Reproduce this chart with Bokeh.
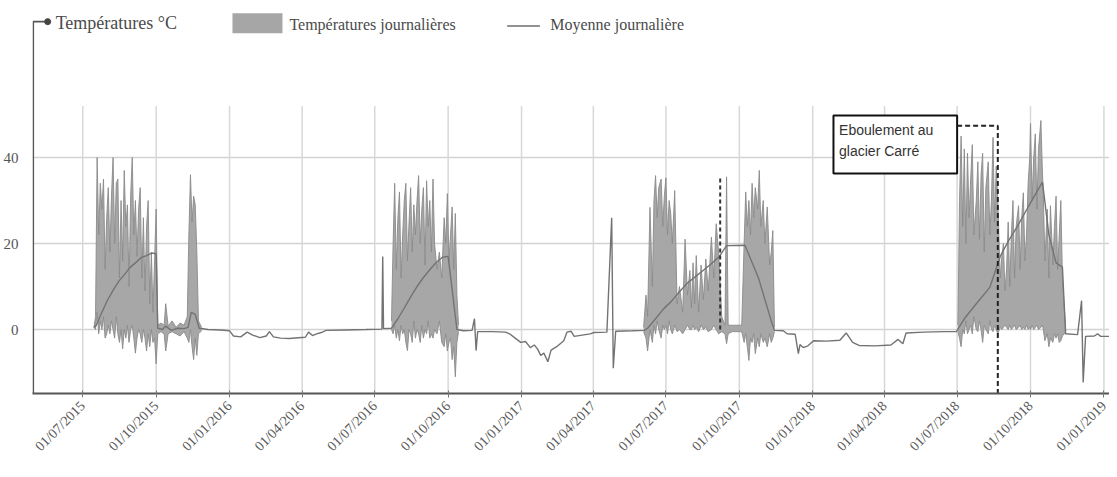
import math
import pandas as pd
from bokeh.plotting import figure
from bokeh.models import ColumnDataSource, Range1d, FixedTicker, DatetimeTickFormatter
from bokeh.core.properties import value
from bokeh.embed import file_html
from bokeh.resources import INLINE

# ---------------- DATA ----------------
x_tick_dates = ["2015-07-01", "2015-10-01", "2016-01-01", "2016-04-01", "2016-07-01",
                "2016-10-01", "2017-01-01", "2017-04-01", "2017-07-01", "2017-10-01",
                "2018-01-01", "2018-04-01", "2018-07-01", "2018-10-01", "2019-01-01"]
y_ticks = [0, 20, 40]

# Daily min / max band, season 2015
dates_2015 = ["2015-07-15", "2015-07-17", "2015-07-19", "2015-07-21", "2015-07-23", "2015-07-25", "2015-07-27", "2015-07-29", "2015-07-31",
              "2015-08-02", "2015-08-04", "2015-08-06", "2015-08-08", "2015-08-10", "2015-08-12", "2015-08-14", "2015-08-16", "2015-08-18",
              "2015-08-20", "2015-08-22", "2015-08-24", "2015-08-26", "2015-08-28", "2015-08-30",
              "2015-09-01", "2015-09-03", "2015-09-05", "2015-09-07", "2015-09-09", "2015-09-11", "2015-09-13", "2015-09-15", "2015-09-17",
              "2015-09-19", "2015-09-21", "2015-09-23", "2015-09-25", "2015-09-27", "2015-09-29", "2015-10-01",
              "2015-10-03", "2015-10-07", "2015-10-11", "2015-10-13", "2015-10-16", "2015-10-21", "2015-10-26", "2015-10-31", "2015-11-05", "2015-11-09",
              "2015-11-11", "2015-11-13", "2015-11-15", "2015-11-17", "2015-11-19", "2015-11-21", "2015-11-23", "2015-11-27"]
tmax_2015 = [0.5, 3, 40, 22, 34, 28, 35, 14, 26,
             33, 18, 31, 40, 20, 34, 35, 12, 30, 16, 37, 24, 29, 10, 31,
             40, 22, 30, 17, 28, 33, 12, 26, 9, 24, 30, 6, 18, 4, 16, 28,
             1, 1.5, 1, 6, 0.8, 2, 0.5, 1.5, 1, 3,
             22, 36, 25, 31, 29, 18, 2, 0.5]
tmin_2015 = [0.5, 0, 4, -1, 2, 0, 3, -2, -1,
             1, -1, 2, 0, -2, 3, -1, -3, 0, -4.5, 0, -2, 1, -3, 0,
             1, -2, -5.5, -2, 0, -1, -3, 0, -2, -5, -1, -4, 0, -3, -2, -8,
             -1, -0.5, -1, -5, -1, -0.5, -1, -1.5, -0.5, -2,
             -3, 0, -4, -7, -2, -6, -1, -0.3]

# season 2016
dates_2016 = ["2016-07-22", "2016-07-24", "2016-07-26", "2016-07-28", "2016-07-30",
              "2016-08-01", "2016-08-03", "2016-08-05", "2016-08-07", "2016-08-09", "2016-08-11", "2016-08-13", "2016-08-15",
              "2016-08-17", "2016-08-19", "2016-08-21", "2016-08-23", "2016-08-25", "2016-08-27", "2016-08-29", "2016-08-31",
              "2016-09-02", "2016-09-04", "2016-09-06", "2016-09-08", "2016-09-10", "2016-09-12", "2016-09-14",
              "2016-09-17", "2016-09-20", "2016-09-23", "2016-09-26", "2016-09-28", "2016-09-30",
              "2016-10-02", "2016-10-04", "2016-10-06", "2016-10-08", "2016-10-10", "2016-10-12", "2016-10-14"]
tmax_2016 = [2, 20, 34, 14, 26,
             32, 12, 22, 30, 34, 16, 25, 33, 18, 29, 22, 30, 35.8, 20, 28, 33,
             15, 34.6, 24, 30, 18, 35, 20,
             14, 18, 12, 26, 20, 31.6,
             16, 22, 28.5, 14, 27, 8, 1]
tmin_2016 = [0, -1, 1, -2, 0,
             -2.6, 1, -1, 0, -3, -4.9, 0, -1, -3, 2, -2, 0, -1, -3, 1, -2,
             0, -1, 2, -2, -1, -2, 0,
             -1, 2, -3, -4, -1, -5,
             -3, -2, -7, -4, -11, -3, -0.5]

# season 2017
dates_2017 = ["2017-06-03", "2017-06-06", "2017-06-08", "2017-06-11", "2017-06-14", "2017-06-16", "2017-06-18", "2017-06-20",
              "2017-06-22", "2017-06-25", "2017-06-27", "2017-06-29",
              "2017-07-01", "2017-07-03", "2017-07-05", "2017-07-07", "2017-07-09", "2017-07-12", "2017-07-15", "2017-07-18",
              "2017-07-22", "2017-07-25", "2017-07-28", "2017-07-31",
              "2017-08-02", "2017-08-04", "2017-08-06", "2017-08-08", "2017-08-11", "2017-08-14", "2017-08-17", "2017-08-20",
              "2017-08-23", "2017-08-27", "2017-08-30",
              "2017-09-02", "2017-09-05", "2017-09-09", "2017-09-13", "2017-09-15", "2017-09-17", "2017-09-22", "2017-09-28",
              "2017-10-04", "2017-10-07", "2017-10-09", "2017-10-11", "2017-10-13", "2017-10-15", "2017-10-17", "2017-10-19",
              "2017-10-21", "2017-10-24", "2017-10-26", "2017-10-28", "2017-10-31",
              "2017-11-02", "2017-11-05", "2017-11-08", "2017-11-10", "2017-11-12", "2017-11-14"]
tmax_2017 = [0.5, 8, 3, 28.4, 10, 30, 35.8, 26, 33, 35, 24, 31,
             35.3, 22, 30, 27, 20, 32.3, 6, 10, 4, 21, 8, 13.7,
             5, 15.5, 6, 17.2, 4, 15, 7, 16.4, 9, 21.5, 12,
             24.6, 18, 3, 1, 35.5, 1, 1, 1,
             1, 20, 32, 24, 30, 22, 34, 26, 33, 28, 37, 24, 30,
             20, 28.5, 15, 18, 23, 0.5]
tmin_2017 = [-0.5, -2, -5, 0, -3, 1, -1, 2, 0, -2, 1, 0,
             1, -1, 2, 0, -1, 1, -0.5, 0, -1, 0, 1, 0,
             0, 1, 0, 0.5, -0.5, 1, 0, 0.5, -0.5, 0, 1,
             0, -1, -0.5, -1, -3.3, -1, -0.5, -0.5,
             -0.5, -3, -1, -4, -7.2, -2, -3, -1, -5.6, -2, -4, -1, -3,
             -2, -4, -1, -3, -2, -0.5]

# season 2018
dates_2018 = ["2018-07-02", "2018-07-04", "2018-07-06", "2018-07-08", "2018-07-10", "2018-07-12", "2018-07-14", "2018-07-16",
              "2018-07-18", "2018-07-20", "2018-07-22", "2018-07-25", "2018-07-27", "2018-07-29", "2018-07-31",
              "2018-08-02", "2018-08-04", "2018-08-06", "2018-08-09", "2018-08-11", "2018-08-13", "2018-08-15", "2018-08-17",
              "2018-08-19", "2018-08-21", "2018-08-24", "2018-08-26", "2018-08-28", "2018-08-30",
              "2018-09-01", "2018-09-03", "2018-09-05", "2018-09-07", "2018-09-09", "2018-09-11", "2018-09-13", "2018-09-16",
              "2018-09-18", "2018-09-20", "2018-09-22", "2018-09-24", "2018-09-26", "2018-09-28", "2018-09-30",
              "2018-10-01", "2018-10-03", "2018-10-05", "2018-10-07", "2018-10-09", "2018-10-11", "2018-10-14", "2018-10-16",
              "2018-10-17", "2018-10-19", "2018-10-22", "2018-10-24", "2018-10-26", "2018-10-29", "2018-10-31",
              "2018-11-02", "2018-11-04", "2018-11-06", "2018-11-08", "2018-11-10", "2018-11-12", "2018-11-14"]
tmax_2018 = [1, 30, 45, 24, 42, 20, 41, 26, 35, 43, 22, 30, 39, 21, 36,
             41, 18, 33, 39, 22, 30, 44.7, 25, 38, 30, 12, 17, 20, 9,
             14, 25, 10, 22, 30, 12, 24, 28.8, 14, 26, 31.8, 16, 22, 34, 40,
             47.9, 30, 40, 45.5, 28, 42, 48.6, 36, 31.8, 16, 28, 12, 28.8, 15, 24,
             31, 14, 22, 30, 12, 6, 0.5]
tmin_2018 = [-0.5, -2, -4, 0, -1, 2, -1, 0, 1, -1, 3, 0, -0.5, 2, 0,
             -3, 1, 0, -1, 2, 0, -0.5, 1, 0, -1, 0.5, 0, 0.5, 1,
             0.5, 0, 1, 0, 0.5, 1, 0, 0.5, 1, 0, 0.5, 0, 1, 0, 0.5,
             0, 1, 0, 0.5, 1, 0, 0.5, 1, 0, -2.6, -1, -4, -2, -3, -1,
             -2, -1, -3, -2.6, -1.5, -1, -1]

# Daily mean (whole period)
dates_mean = ["2015-07-15", "2015-07-18", "2015-07-25", "2015-08-01", "2015-08-08", "2015-08-15", "2015-08-22", "2015-08-29",
              "2015-09-05", "2015-09-12", "2015-09-19", "2015-09-26", "2015-10-01", "2015-10-03", "2015-10-09", "2015-10-13",
              "2015-10-20", "2015-10-28", "2015-11-05", "2015-11-10", "2015-11-14", "2015-11-19", "2015-11-24", "2015-12-05",
              "2015-12-20", "2016-01-01", "2016-01-06", "2016-01-15", "2016-01-23", "2016-01-30", "2016-02-08", "2016-02-16",
              "2016-02-20", "2016-02-25", "2016-03-05", "2016-03-16", "2016-03-27", "2016-04-05", "2016-04-09", "2016-04-14",
              "2016-04-19", "2016-04-25", "2016-05-01", "2016-05-25", "2016-06-20", "2016-07-10", "2016-07-11", "2016-07-12",
              "2016-07-22", "2016-07-30", "2016-08-07", "2016-08-15", "2016-08-23", "2016-08-31", "2016-09-08", "2016-09-16",
              "2016-09-24", "2016-10-01", "2016-10-12", "2016-10-20", "2016-10-31", "2016-11-03", "2016-11-05", "2016-11-07",
              "2016-11-25", "2016-12-12", "2016-12-17", "2016-12-24", "2016-12-31", "2017-01-06", "2017-01-12", "2017-01-17",
              "2017-01-21", "2017-01-25", "2017-01-29", "2017-02-03", "2017-02-07", "2017-02-14", "2017-02-23", "2017-02-27",
              "2017-03-04", "2017-03-08", "2017-03-18", "2017-03-28", "2017-04-02", "2017-04-18", "2017-04-24", "2017-04-26",
              "2017-04-29", "2017-05-20", "2017-06-04", "2017-06-08", "2017-06-18", "2017-06-28", "2017-07-08", "2017-07-18",
              "2017-07-28", "2017-08-07", "2017-08-17", "2017-08-27", "2017-09-06", "2017-09-15", "2017-10-08", "2017-10-25",
              "2017-11-10", "2017-11-14", "2017-11-25", "2017-11-30", "2017-12-10", "2017-12-14", "2017-12-16", "2017-12-20",
              "2017-12-26", "2018-01-02", "2018-01-18", "2018-02-04", "2018-02-12", "2018-02-20", "2018-02-28", "2018-03-20",
              "2018-04-09", "2018-04-18", "2018-04-24", "2018-04-28", "2018-05-20", "2018-06-15", "2018-06-30", "2018-07-10",
              "2018-07-25", "2018-08-11", "2018-08-24", "2018-09-03", "2018-09-14", "2018-09-28", "2018-10-16", "2018-10-24",
              "2018-11-02", "2018-11-10", "2018-11-14", "2018-11-29", "2018-12-04", "2018-12-06", "2018-12-09", "2018-12-20",
              "2018-12-24", "2018-12-28", "2019-01-10"]
t_mean = [0.5, 1.0, 4.0, 6.8, 9.1, 11.2, 12.7, 14.4,
          15.5, 16.7, 17.2, 17.8, 17.6, 0.3, 0.0, 0.8,
          -0.2, 0.3, 0.2, 0.5, 4.0, 3.5, 0.3, 0.0,
          -0.1, -0.3, -1.5, -1.7, -0.6, -1.3, -1.9, -1.5,
          -0.5, -1.7, -2.0, -2.1, -1.9, -1.8, -0.6, -1.4,
          -1.0, -0.7, -0.2, -0.1, 0.0, 0.1, 17.0, 0.2,
          0.3, 2.5, 5.0, 7.6, 10.0, 12.1, 13.9, 15.6,
          16.8, 17.0, 0.0, -0.3, -0.2, 2.5, -4.9, -0.5,
          -0.5, -0.6, -1.0, -2.0, -3.0, -2.8, -4.2, -3.6,
          -4.5, -6.0, -5.5, -7.5, -4.8, -4.0, -2.6, -0.6,
          -0.4, -1.6, -1.3, -1.0, -0.7, -0.6, 26.0, -9.0,
          -0.4, -0.3, -0.2, 0.3, 2.5, 4.8, 6.6, 8.8,
          10.8, 12.3, 13.8, 15.3, 17.0, 19.5, 19.6, 12.0,
          2.0, -0.2, -0.3, -1.0, -1.1, -5.6, -3.5, -4.2,
          -3.8, -2.6, -2.7, -2.5, -0.8, -3.0, -3.7, -3.8,
          -3.6, -2.3, -3.3, -0.8, -0.6, -0.5, -0.5, 2.5,
          6.0, 9.8, 17.0, 20.5, 23.8, 28.5, 34.3, 22.0,
          15.5, 14.5, -1.0, -1.2, 6.7, -12.3, -1.6, -1.5,
          -1.0, -1.6, -1.6]

# Event markers
event_2017_date = "2017-09-07"
event_2017_top = 35.8
event_2018_date = "2018-08-21"
event_label = ["Eboulement au", "glacier Carré"]

# ---------------- FIGURE ----------------
T = pd.to_datetime
X0, X1 = T("2015-04-29"), T("2019-01-08")
Y0, Y1 = -14.88, 74.19

p = figure(width=1109, height=463, output_backend="svg", toolbar_location=None,
           x_axis_type="datetime", x_range=Range1d(X0, X1), y_range=Range1d(Y0, Y1),
           min_border_left=24, min_border_right=0, min_border_top=10, min_border_bottom=70)
p.outline_line_color = None
p.xgrid.visible = False
p.ygrid.ticker = FixedTicker(ticks=y_ticks)
p.ygrid.grid_line_color = "#d2d2d2"
p.ygrid.grid_line_width = 1.5

tick_ms = [t.value / 1e6 for t in T(x_tick_dates)]
p.xaxis.ticker = FixedTicker(ticks=tick_ms)
fmt = "%d/%m/%Y"
p.xaxis.formatter = DatetimeTickFormatter(days=fmt, months=fmt, years=fmt, hours=fmt,
                                          minutes=fmt, seconds=fmt, milliseconds=fmt)
p.xaxis.major_label_orientation = math.pi / 4
p.xaxis.major_label_text_font = "Liberation Serif"
p.xaxis.major_label_text_font_size = "14px"
p.xaxis.major_label_text_color = "#585858"
p.xaxis.major_label_standoff = 6
p.xaxis.axis_line_color = "#555555"
p.xaxis.axis_line_width = 1.8
p.xaxis.major_tick_line_color = "#777777"
p.xaxis.major_tick_out = 4
p.xaxis.major_tick_in = 3
p.xaxis.minor_tick_line_color = None

p.yaxis.ticker = FixedTicker(ticks=y_ticks)
p.yaxis.axis_line_color = None
p.yaxis.major_tick_line_color = None
p.yaxis.minor_tick_line_color = None
p.yaxis.major_label_text_font = "Liberation Serif"
p.yaxis.major_label_text_font_size = "15px"
p.yaxis.major_label_text_color = "#555555"
p.yaxis.major_label_standoff = 8

# vertical grid lines (stop below the annotation area like the original)
p.segment(x0=T(x_tick_dates), y0=[Y0] * len(x_tick_dates), x1=T(x_tick_dates), y1=[52] * len(x_tick_dates),
          line_color="#d8d8d8", line_width=1.5)

band_fill = "#a2a2a2"
band_edge = "#8a8a8a"
for d, hi, lo in [(dates_2015, tmax_2015, tmin_2015), (dates_2016, tmax_2016, tmin_2016),
                  (dates_2017, tmax_2017, tmin_2017), (dates_2018, tmax_2018, tmin_2018)]:
    src = ColumnDataSource(dict(x=T(d), hi=hi, lo=lo))
    p.varea(x="x", y1="lo", y2="hi", source=src, fill_color=band_fill, fill_alpha=0.95)
    p.line(x="x", y="hi", source=src, line_color=band_edge, line_width=0.9)
    p.line(x="x", y="lo", source=src, line_color=band_edge, line_width=0.9)

mean_src = ColumnDataSource(dict(x=T(dates_mean), y=t_mean))
p.line(x="x", y="y", source=mean_src, line_color="#737373", line_width=1.4)

# dashed markers
p.line(x=T([event_2017_date, event_2017_date]), y=[0, event_2017_top],
       line_color="#333333", line_width=2, line_dash="4 3")
box_l, box_r, box_b, box_t = T("2018-01-27"), T("2018-07-01"), 36.3, 49.8
p.line(x=[box_r, T(event_2018_date), T(event_2018_date)], y=[47.4, 47.4, Y0],
       line_color="#222222", line_width=2, line_dash="5 3")
p.quad(left=[box_l], right=[box_r], bottom=[box_b], top=[box_t],
       fill_color="white", line_color="#111111", line_width=2)
p.text(x=[T("2018-02-03")] * 2, y=[46.3, 41.6], text=event_label,
       text_font=value("Liberation Sans"), text_font_size="14px", text_color="#333333",
       text_baseline="middle", text_align="left")

# own y axis with hook + dot
ax_x = T("2015-04-30")
p.line(x=[ax_x, ax_x, T("2015-05-17")], y=[Y0, 71.6, 71.6], line_color="#555555", line_width=1.6)
p.scatter(x=[T("2015-05-18")], y=[71.6], size=6, color="#444444")

# legend row
lg_font = value("Liberation Serif")
p.text(x=[T("2015-05-28")], y=[71.3], text=["Températures °C"], text_font=lg_font,
       text_font_size="18px", text_color="#4a4a4a", text_baseline="middle")
p.rect(x=[T("2016-02-05")], y=[71.2], width=50, height=20, width_units="screen", height_units="screen",
       fill_color="#a6a6a6", line_color=None)
p.text(x=[T("2016-03-16")], y=[71.0], text=["Températures journalières"], text_font=lg_font,
       text_font_size="16px", text_color="#4a4a4a", text_baseline="middle")
p.line(x=T(["2016-12-14", "2017-01-24"]), y=[70.6, 70.6], line_color="#6c6c6c", line_width=1.5)
p.text(x=[T("2017-02-06")], y=[71.0], text=["Moyenne journalière"], text_font=lg_font,
       text_font_size="16px", text_color="#4a4a4a", text_baseline="middle")

open("out.html", "w").write(file_html(p, INLINE))
